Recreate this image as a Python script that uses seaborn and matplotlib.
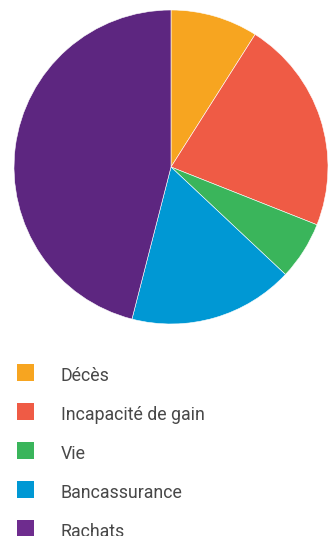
import matplotlib
matplotlib.use("Agg")
import matplotlib.pyplot as plt
from matplotlib.patches import Rectangle
import seaborn as sns

# Share of each business line (percent)
categories = ["Décès", "Incapacité de gain", "Vie", "Bancassurance", "Rachats"]
shares = [9, 22, 6, 17, 46]
colors = ["#F7A520", "#EF5B45", "#3AB55B", "#0098D4", "#5D2680"]
legend_colors = ["#F7A520", "#EF5B45", "#3AB55B", "#0098D4", "#6E2C8E"]

sns.set_theme(style="white")
plt.rcParams["font.family"] = ["Roboto", "DejaVu Sans"]

W, H = 336, 536
fig = plt.figure(figsize=(W / 100, H / 100), dpi=100)
fig.patch.set_facecolor("white")

# Pie: centre (171, 167) px, radius 157 px
cx, cy, r = 171, 167, 157
ax = fig.add_axes([(cx - r) / W, (H - cy - r) / H, 2 * r / W, 2 * r / H])
ax.pie(shares, colors=sns.color_palette(colors), startangle=90, counterclock=False,
       radius=1, wedgeprops=dict(edgecolor="white", linewidth=0.4))
ax.set_xlim(-1, 1)
ax.set_ylim(-1, 1)
ax.set_aspect("equal")
ax.axis("off")

# Legend drawn in pixel coordinates below the pie
lg = fig.add_axes([0, 0, 1, 1], zorder=-1)
lg.set_xlim(0, W)
lg.set_ylim(H, 0)
lg.axis("off")
top, step, size = 364, 39, 17
for i, (name, col) in enumerate(zip(categories, legend_colors)):
    y = top + i * step
    lg.add_patch(Rectangle((17, y), size, size, facecolor=col, edgecolor="none"))
    lg.text(61, y + size, name, fontsize=12.8, color="#484848",
            va="baseline", ha="left")

fig.savefig("out.png", dpi=100, facecolor="white")
